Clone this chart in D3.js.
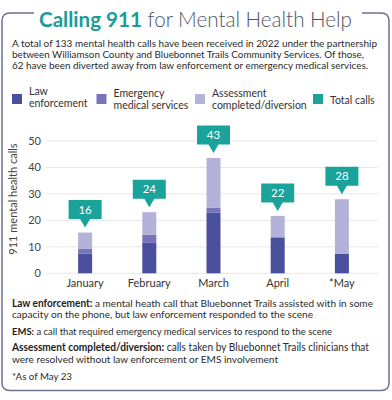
<!DOCTYPE html>
<html><head><meta charset="utf-8">
<script src="https://cdn.jsdelivr.net/npm/d3@7"></script>
<style>
html,body{margin:0;padding:0;background:#fff;}
svg{display:block;font-family:Lato,"Noto Sans",sans-serif;}
</style></head>
<body><svg id="c" width="392" height="400"></svg>
<script>
// ---- data ----
const months = ["January","February","March","April","*May"];
const lawEnforcement = [7.5, 11.5, 23, 13.6, 7.3];
const ems = [1.7, 3, 1.7, 0, 0];
const assessment = [6.2, 8.6, 18.9, 8.1, 20.7];
const totalCalls = [16, 24, 43, 22, 28];
const yTicks = [0, 10, 20, 30, 40, 50];
const seriesNames = ["Law enforcement","Emergency medical services","Assessment completed/diversion","Total calls"];
const legendLabels = [["Law","enforcement"],["Emergency","medical services"],["Assessment","completed/diversion"],["Total calls"]];
const introLines = [
 "A total of 133 mental health calls have been received in 2022 under the partnership",
 "between Williamson County and Bluebonnet Trails Community Services. Of those,",
 "62 have been diverted away from law enforcement or emergency medical services."
];

const colors = ["#4a4f9e","#7774b9","#b4b2d9","#19a39b"];
const teal = "#19a39b";
const svg = d3.select("#c");

function fitWidth(sel, target){
  sel.each(function(){
    const s = d3.select(this);
    let w = this.getComputedTextLength();
    if (w > target*1.03) {
      const fs = parseFloat(s.attr("font-size"));
      s.attr("font-size", (fs*target*1.03/w).toFixed(2));
      w = this.getComputedTextLength();
    }
    if (Math.abs(w-target) > 1) {
      s.attr("textLength", target).attr("lengthAdjust","spacingAndGlyphs");
    }
  });
}

// ---- frame ----
const L=2, T=13, R=389, B=390.5, r=8;
svg.append("path")
  .attr("d",`M34,${T} H${L+r} Q${L},${T} ${L},${T+r} V${B-r} Q${L},${B} ${L+r},${B} H${R-r} Q${R},${B} ${R},${B-r} V${T+r} Q${R},${T} ${R-r},${T} H362`)
  .attr("fill","none").attr("stroke","#6d708e").attr("stroke-width",1.5);

// ---- title ----
const title = svg.append("text").attr("x",39).attr("y",27).attr("font-size",23.5);
title.append("tspan").attr("font-weight",700).attr("fill","#1a9c94").text("Calling 911");
title.append("tspan").attr("font-weight",300).attr("fill","#4f5567").text(" for Mental Health Help");
fitWidth(title, 313);

// ---- intro ----
svg.selectAll("text.intro").data(introLines).join("text")
  .attr("class","intro").attr("x",12).attr("y",(d,i)=>47+i*11.2)
  .attr("font-size",10.5).attr("fill","#2b2b2b").text(d=>d)
  .each(function(d,i){ fitWidth(d3.select(this), [365,352,356][i]); });

// ---- legend ----
const legX = [12, 96.5, 195, 313];
const lg = svg.selectAll("g.leg").data(seriesNames).join("g").attr("class","leg")
  .attr("transform",(d,i)=>`translate(${legX[i]},0)`);
lg.append("rect").attr("x",0).attr("y",94).attr("width",10).attr("height",10)
  .attr("fill",(d,i)=>colors[i]);
lg.each(function(d,i){
  const lines = legendLabels[i];
  const g = d3.select(this);
  const base = lines.length===1 ? 104 : (i===0 ? 95 : 97);
  lines.forEach((t,j)=>{
    g.append("text").attr("x",17).attr("y",base+j*11.5)
      .attr("font-size",10.5).attr("fill","#333").text(t);
  });
});

// ---- chart ----
const x = d3.scalePoint().domain(months).range([53,374]).padding(0.5);
const y = d3.scaleLinear().domain([0,50]).range([273.3,141]);
const barW = 14;

svg.append("g").selectAll("line").data(yTicks).join("line")
  .attr("x1",46).attr("x2",378).attr("y1",d=>y(d)).attr("y2",d=>y(d))
  .attr("stroke","#e6e6e6").attr("stroke-width",1);

svg.append("g").selectAll("text").data(yTicks).join("text")
  .attr("x",41).attr("y",d=>y(d)+4).attr("text-anchor","end")
  .attr("font-size",11).attr("fill","#444").text(d=>d);

svg.append("text").attr("transform","translate(17,199) rotate(-90)")
  .attr("text-anchor","middle").attr("font-size",11).attr("fill","#444")
  .text("911 mental health calls");

const stackData = months.map((m,i)=>({month:m, law:lawEnforcement[i], ems:ems[i], assess:assessment[i]}));
const stack = d3.stack().keys(["law","ems","assess"])(stackData);
svg.append("g").selectAll("g").data(stack).join("g")
  .attr("fill",(d,i)=>colors[i])
  .selectAll("rect").data(d=>d).join("rect")
  .attr("x",d=>x(d.data.month)-barW/2).attr("width",barW)
  .attr("y",d=>y(d[1])).attr("height",d=>Math.max(0,y(d[0])-y(d[1])));

svg.append("g").selectAll("text").data(months).join("text")
  .attr("x",d=>x(d)).attr("y",287).attr("text-anchor","middle")
  .attr("font-size",11).attr("fill","#333").text(d=>d);

// callouts
const tops = stackData.map(d=>d.law+d.ems+d.assess);
const co = svg.append("g").selectAll("g").data(months).join("g")
  .attr("transform",(d,i)=>`translate(${x(d)},${y(tops[i])-5})`);
co.append("path")
  .attr("d","M-16.5,-27.5 H16.5 V-8.5 H5 L0,0 L-5,-8.5 H-16.5 Z")
  .attr("fill",teal);
co.append("text").attr("y",-14).attr("text-anchor","middle")
  .attr("font-size",11.5).attr("fill","#fff").text((d,i)=>totalCalls[i]);

// ---- definitions ----
const defs = [
  {y:306.5, parts:[["Law enforcement:",700]," a mental heath call that Bluebonnet Trails assisted with in some"], w:361},
  {y:317.7, parts:["capacity on the phone, but law enforcement responded to the scene"], w:301},
  {y:334.5, parts:[["EMS:",700]," a call that required emergency medical services to respond to the scene"], w:320},
  {y:351.3, parts:[["Assessment completed/diversion:",700]," calls taken by Bluebonnet Trails clinicians that"], w:357},
  {y:362.5, parts:["were resolved without law enforcement or EMS involvement"], w:266},
  {y:379.7, parts:["*As of May 23"], w:60}
];
defs.forEach(d=>{
  const t = svg.append("text").attr("x",12).attr("y",d.y).attr("font-size",10.5).attr("fill","#2b2b2b");
  d.parts.forEach(p=>{
    if (Array.isArray(p)) t.append("tspan").attr("font-weight",p[1]).attr("fill","#1e1e1e").text(p[0]);
    else t.append("tspan").text(p);
  });
  fitWidth(t, d.w);
});
</script></body></html>
